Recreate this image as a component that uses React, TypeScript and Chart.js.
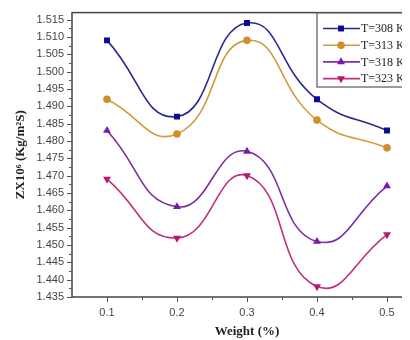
import React, { useEffect, useRef } from "react";
import { Chart, registerables } from "chart.js";

Chart.register(...registerables);

const weights = [0.1, 0.2, 0.3, 0.4, 0.5];
const seriesLabels = ["T=308 K", "T=313 K", "T=318 K", "T=323 K"];
const t308 = [1.509, 1.487, 1.514, 1.492, 1.483];
const t313 = [1.492, 1.482, 1.509, 1.486, 1.478];
const t318 = [1.483, 1.461, 1.477, 1.451, 1.467];
const t323 = [1.469, 1.452, 1.47, 1.438, 1.453];
const yTickValues = [1.435, 1.44, 1.445, 1.45, 1.455, 1.46, 1.465, 1.47, 1.475, 1.48, 1.485, 1.49, 1.495, 1.5, 1.505, 1.51, 1.515];
const xTickValues = [0.1, 0.2, 0.3, 0.4, 0.5];

const lineColors = ["#2a2a8c", "#d49a3c", "#7a2fa8", "#c0307f"];
const markerColors = ["#0a0a96", "#d08f2e", "#7a1aa8", "#b8186f"];
const pointStyles = ["rect", "circle", "triangle", "triangle"];
const pointRotations = [0, 0, 0, 180];
const pointRadii = [4.2, 3.8, 4.6, 4.6];

function drawMarker(ctx: CanvasRenderingContext2D, style: string, rot: number, x: number, y: number, r: number) {
  ctx.beginPath();
  if (style === "rect") {
    const s = r * Math.SQRT1_2;
    ctx.rect(x - s, y - s, 2 * s, 2 * s);
  } else if (style === "circle") {
    ctx.arc(x, y, r, 0, Math.PI * 2);
  } else {
    const a0 = (rot * Math.PI) / 180;
    for (let i = 0; i < 3; i++) {
      const a = a0 + (i * 2 * Math.PI) / 3;
      const px = x + Math.sin(a) * r;
      const py = y - Math.cos(a) * r;
      if (i === 0) ctx.moveTo(px, py);
      else ctx.lineTo(px, py);
    }
    ctx.closePath();
  }
  ctx.fill();
}

const framePlugin = {
  id: "frameAndTicks",
  afterDraw(chart: any) {
    const { ctx, chartArea, scales } = chart;
    const ys = scales.y;
    const xs = scales.x;
    ctx.save();
    ctx.strokeStyle = "#444";
    ctx.lineWidth = 1.5;
    ctx.strokeRect(chartArea.left, chartArea.top, chartArea.right - chartArea.left, chartArea.bottom - chartArea.top);
    ctx.lineWidth = 1;
    ctx.strokeStyle = "#555";
    for (let i = 0; i < yTickValues.length; i++) {
      const v = yTickValues[i];
      const py = Math.round(ys.getPixelForValue(v)) + 0.5;
      ctx.beginPath();
      ctx.moveTo(chartArea.left - 5, py);
      ctx.lineTo(chartArea.left, py);
      ctx.stroke();
      if (i < yTickValues.length - 1) {
        const pm = Math.round(ys.getPixelForValue((v + yTickValues[i + 1]) / 2)) + 0.5;
        ctx.beginPath();
        ctx.moveTo(chartArea.left - 3, pm);
        ctx.lineTo(chartArea.left, pm);
        ctx.stroke();
      }
    }
    for (let i = 0; i < xTickValues.length; i++) {
      const v = xTickValues[i];
      const px = Math.round(xs.getPixelForValue(v)) + 0.5;
      ctx.beginPath();
      ctx.moveTo(px, chartArea.bottom);
      ctx.lineTo(px, chartArea.bottom + 5);
      ctx.stroke();
      const pm = Math.round(xs.getPixelForValue(v + 0.05)) + 0.5;
      ctx.beginPath();
      ctx.moveTo(pm, chartArea.bottom);
      ctx.lineTo(pm, chartArea.bottom + 3);
      ctx.stroke();
    }
    const bx = 309, by = 5, bh = 74;
    ctx.fillStyle = "#fff";
    ctx.fillRect(bx, by, 120, bh);
    ctx.strokeStyle = "#666";
    ctx.lineWidth = 1.3;
    ctx.strokeRect(bx, by, 120, bh);
    ctx.font = "12px 'Liberation Serif'";
    ctx.textBaseline = "middle";
    for (let i = 0; i < seriesLabels.length; i++) {
      const ly = 20.5 + i * 16.7;
      ctx.strokeStyle = lineColors[i];
      ctx.lineWidth = 1.6;
      ctx.beginPath();
      ctx.moveTo(315, ly);
      ctx.lineTo(352, ly);
      ctx.stroke();
      ctx.fillStyle = markerColors[i];
      drawMarker(ctx, pointStyles[i], pointRotations[i], 333, ly, pointRadii[i]);
      ctx.fillStyle = "#222";
      ctx.fillText(seriesLabels[i], 353, ly + 0.5);
    }
    ctx.restore();
  },
};

export default function App() {
  const ref = useRef<HTMLCanvasElement | null>(null);
  useEffect(() => {
    if (!ref.current) return;
    const allSeries = [t308, t313, t318, t323];
    const chart = new Chart(ref.current, {
      type: "line",
      data: {
        datasets: allSeries.map((s, i) => ({
          label: seriesLabels[i],
          data: weights.map((w, j) => ({ x: w, y: s[j] })),
          borderColor: lineColors[i],
          backgroundColor: markerColors[i],
          pointBackgroundColor: markerColors[i],
          pointBorderColor: markerColors[i],
          pointBorderWidth: 0,
          pointStyle: pointStyles[i] as any,
          rotation: pointRotations[i],
          pointRadius: pointRadii[i],
          borderWidth: 1.6,
          tension: 0.5,
          fill: false,
        })),
      },
      options: {
        responsive: false,
        animation: false,
        devicePixelRatio: 1,
        layout: { padding: { top: 1.5, right: 16, left: 0, bottom: 0 } },
        plugins: { legend: { display: false }, tooltip: { enabled: false } },
        scales: {
          x: {
            type: "linear",
            min: 0.05,
            max: 0.55,
            afterBuildTicks: (scale: any) => {
              scale.ticks = xTickValues.map((v) => ({ value: v }));
            },
            afterFit: (scale: any) => {
              scale.height = 43;
              scale.paddingLeft = 0;
              scale.paddingRight = 0;
            },
            grid: { display: false, drawTicks: false },
            border: { display: false },
            ticks: {
              padding: 9,
              color: "#444",
              font: { family: "'Liberation Sans', Arial", size: 11 },
              callback: (v: any) => Number(v).toFixed(1),
              maxRotation: 0,
            },
            title: {
              display: true,
              text: "Weight (%)",
              color: "#222",
              font: { family: "'Liberation Serif'", size: 13, weight: "bold" },
              padding: { top: 0, bottom: 1 },
            },
          },
          y: {
            type: "linear",
            min: 1.435,
            max: 1.517,
            afterBuildTicks: (scale: any) => {
              scale.ticks = yTickValues.map((v) => ({ value: v }));
            },
            afterFit: (scale: any) => {
              scale.width = 64;
              scale.paddingTop = 0;
              scale.paddingBottom = 0;
            },
            grid: { display: false, drawTicks: false },
            border: { display: false },
            ticks: {
              padding: 8,
              color: "#444",
              font: { family: "'Liberation Sans', Arial", size: 11 },
              callback: (v: any) => Number(v).toFixed(3),
            },
            title: {
              display: true,
              text: "ZX10⁶ (Kg/m²S)",
              color: "#222",
              font: { family: "'Liberation Serif'", size: 13, weight: "bold" },
              padding: { top: 5, bottom: 0 },
            },
          },
        },
      },
      plugins: [framePlugin],
    });
    return () => chart.destroy();
  }, []);
  return (
    <div style={{ width: 402, height: 332, overflow: "hidden", position: "relative" }}>
      <canvas ref={ref} width={430} height={332} style={{ display: "block", width: 430, height: 332 }} />
    </div>
  );
}
